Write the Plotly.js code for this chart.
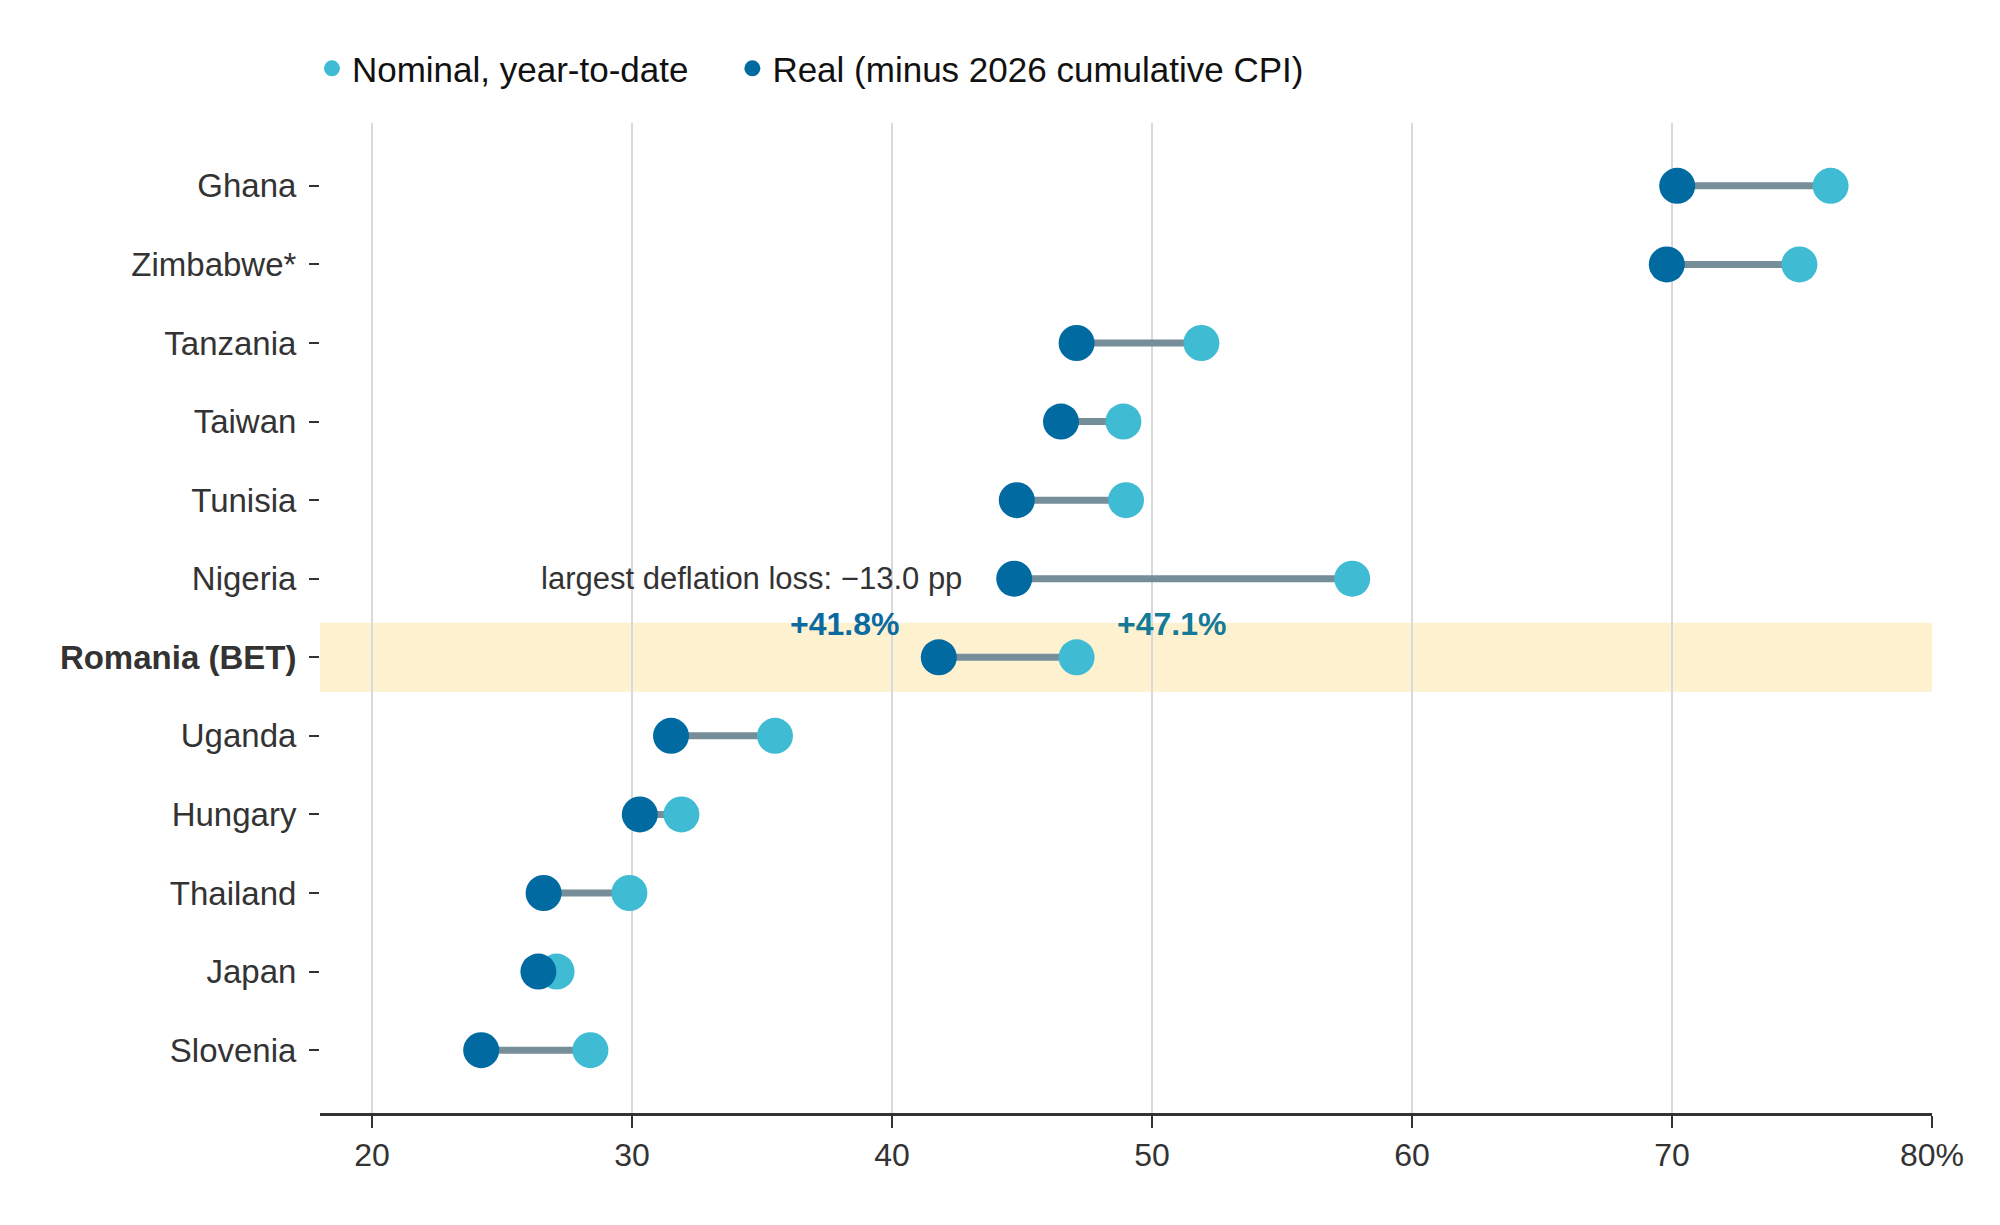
<!DOCTYPE html>
<html>
<head>
<meta charset="utf-8">
<script src="https://cdn.plot.ly/plotly-3.0.1.min.js"></script>
<style>
  html, body { margin: 0; padding: 0; background: #fff; }
  #chart { width: 2000px; height: 1225px; }
</style>
</head>
<body>
<div id="chart"></div>
<script>
// markets, top to bottom
var countries = ['Ghana', 'Zimbabwe*', 'Tanzania', 'Taiwan', 'Tunisia', 'Nigeria',
                 'Romania (BET)', 'Uganda', 'Hungary', 'Thailand', 'Japan', 'Slovenia'];
// nominal year-to-date return, %
var nominal = [76.1, 74.9, 51.9, 48.9, 49.0, 57.7, 47.1, 35.5, 31.9, 29.9, 27.1, 28.4];
// real return (minus 2026 cumulative CPI), %
var real = [70.2, 69.8, 47.1, 46.5, 44.8, 44.7, 41.8, 31.5, 30.3, 26.6, 26.4, 24.2];

var xTicks = [20, 30, 40, 50, 60, 70, 80];
var xTickText = ['20', '30', '40', '50', '60', '70', '80%'];

var highlight = 'Romania (BET)';
var biggestLoss = 'Nigeria';

var NOMINAL_COLOR = '#3fbcd3';
var REAL_COLOR = '#006aa1';
var FONT = 'Liberation Sans, Arial, Helvetica, sans-serif';

// connectors: one segment per country, split by nulls
var segX = [], segY = [];
for (var i = 0; i < countries.length; i++) {
  segX.push(real[i], nominal[i], null);
  segY.push(countries[i], countries[i], null);
}

var connectors = {
  x: segX, y: segY,
  mode: 'lines',
  line: {color: '#768d9a', width: 7},
  hoverinfo: 'skip',
  showlegend: false,
  type: 'scatter'
};
var nominalDots = {
  x: nominal, y: countries,
  mode: 'markers',
  name: 'Nominal, year-to-date',
  marker: {color: NOMINAL_COLOR, size: 36},
  showlegend: false,
  type: 'scatter'
};
var realDots = {
  x: real, y: countries,
  mode: 'markers',
  name: 'Real (minus 2026 cumulative CPI)',
  marker: {color: REAL_COLOR, size: 36},
  showlegend: false,
  type: 'scatter'
};
// small legend-only markers (trailing nbsp widens the gap between entries)
var legNominal = {
  x: [null], y: [null], mode: 'markers',
  name: 'Nominal, year-to-date\u00a0\u00a0\u00a0\u00a0',
  marker: {color: NOMINAL_COLOR, size: 17}, type: 'scatter'
};
var legReal = {
  x: [null], y: [null], mode: 'markers', name: 'Real (minus 2026 cumulative CPI)',
  marker: {color: REAL_COLOR, size: 17}, type: 'scatter'
};

var hi = countries.indexOf(highlight);
var lo = countries.indexOf(biggestLoss);
var loss = nominal[lo] - real[lo];

var tickText = countries.map(function(c) { return c === highlight ? '<b>' + c + '</b>' : c; });

var layout = {
  width: 2000,
  height: 1225,
  margin: {l: 320, r: 68, t: 123, b: 112},
  paper_bgcolor: '#fff',
  plot_bgcolor: '#fff',
  font: {family: FONT, color: '#333'},
  showlegend: true,
  legend: {
    orientation: 'h',
    x: -0.005, xanchor: 'left',
    y: 1.055, yanchor: 'middle',
    font: {size: 35, color: '#111'}
  },
  hovermode: 'closest',
  xaxis: {
    range: [18, 80],
    tickvals: xTicks,
    ticktext: xTickText,
    showgrid: true, gridcolor: '#d9d9d9', gridwidth: 2,
    zeroline: false,
    showline: true, linecolor: '#333', linewidth: 3,
    ticks: 'outside', ticklen: 12, tickwidth: 2, tickcolor: '#333',
    tickfont: {size: 32, color: '#333'}
  },
  yaxis: {
    type: 'category',
    categoryorder: 'array',
    categoryarray: countries,
    tickvals: countries,
    ticktext: tickText,
    range: [11.8, -0.8],
    showgrid: false, zeroline: false, showline: false,
    ticks: 'outside', ticklen: 10, tickwidth: 2, tickcolor: '#333',
    ticklabelstandoff: 6,
    tickfont: {size: 33, color: '#333'}
  },
  shapes: [{
    type: 'rect', layer: 'below',
    xref: 'paper', x0: 0, x1: 1,
    yref: 'y', y0: hi - 0.44, y1: hi + 0.44,
    fillcolor: '#fef1cf', line: {width: 0}
  }],
  annotations: [
    {
      x: real[lo], y: countries[lo], xref: 'x', yref: 'y',
      text: 'largest deflation loss: \u2212' + loss.toFixed(1) + ' pp',
      showarrow: false, xanchor: 'right', xshift: -50,
      font: {size: 31, color: '#333'}
    },
    {
      x: real[hi], y: countries[hi], xref: 'x', yref: 'y',
      text: '<b>+' + real[hi].toFixed(1) + '%</b>',
      showarrow: false, xanchor: 'right', xshift: -38, yshift: 33,
      font: {size: 32, color: '#0b6aa0'}
    },
    {
      x: nominal[hi], y: countries[hi], xref: 'x', yref: 'y',
      text: '<b>+' + nominal[hi].toFixed(1) + '%</b>',
      showarrow: false, xanchor: 'left', xshift: 38, yshift: 33,
      font: {size: 32, color: '#147a97'}
    }
  ]
};

Plotly.newPlot('chart', [connectors, nominalDots, realDots, legNominal, legReal], layout, {displayModeBar: false});
</script>
</body>
</html>
